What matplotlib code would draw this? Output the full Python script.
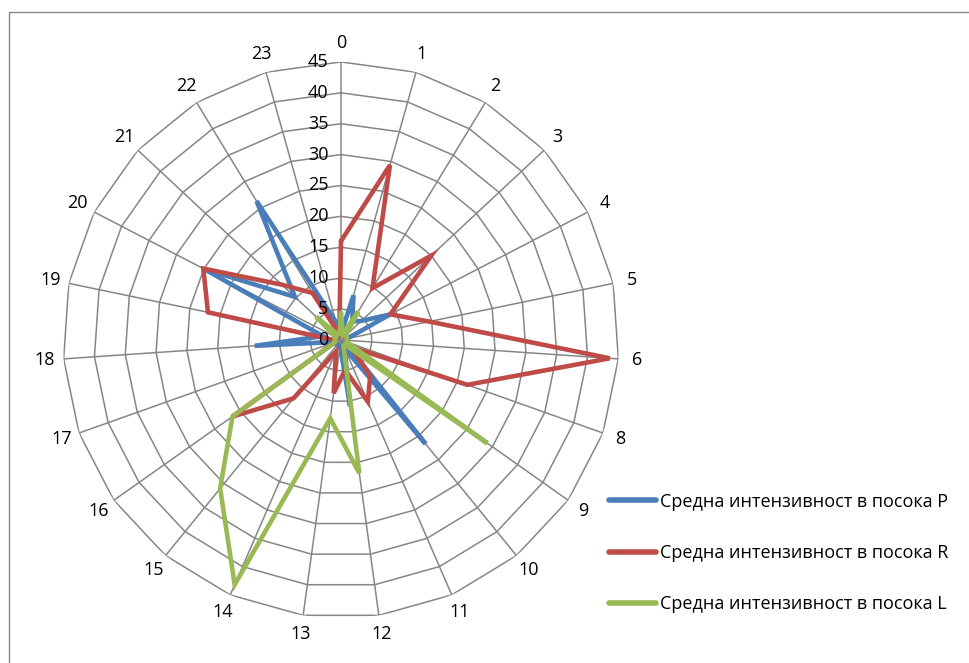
import numpy as np
import matplotlib
matplotlib.use('Agg')
from matplotlib import pyplot as plt
from matplotlib.patches import Rectangle

plt.rcParams['font.family'] = ['Open Sans', 'DejaVu Sans']

# categories (hours, 7 is missing in the source table)
hours = ['0', '1', '2', '3', '4', '5', '6', '8', '9', '10', '11', '12',
         '13', '14', '15', '16', '17', '18', '19', '20', '21', '22', '23']

# average intensity per direction
direction_p = [1, 7.5, 3.5, 4.5, 9, 1, 1, 1, 1, 21.7, 1.5, 10.8,
               1, 1, 1, 1, 1, 14, 3, 25, 10.2, 26.3, 3]
direction_r = [16, 29.4, 9.8, 20, 9, 14.6, 43.6, 21.7, 2, 7.5, 10.9, 4.9,
               8.7, 2, 12.2, 21.5, 1, 1, 22, 25.1, 13.1, 8.9, 1]
direction_l = [4.4, 1, 5.4, 1, 1, 1, 1, 1, 29, 1, 1, 21.8,
               12.8, 43.2, 31, 21.5, 1, 1, 1, 1, 5.5, 1, 1]

series_names = ['Средна интензивност в посока P',
                'Средна интензивност в посока R',
                'Средна интензивност в посока L']
rings = [0, 5, 10, 15, 20, 25, 30, 35, 40, 45]

colors = ['#4A7EBB', '#BE4B48', '#98B954']
grid_color = '#868686'

fig = plt.figure(figsize=(9.69, 6.63), dpi=100)
ax = fig.add_axes([0.065, 0.068, 0.5738, 0.8386], projection='polar')
ax.set_theta_zero_location('N')
ax.set_theta_direction(-1)

theta = np.linspace(0, 2 * np.pi, len(hours), endpoint=False)
theta_closed = np.append(theta, theta[0])

# polygon grid (Excel radar style)
for r in rings[1:]:
    ax.plot(theta_closed, [r] * len(theta_closed), color=grid_color, lw=1.1, zorder=1)
for t in theta:
    ax.plot([t, t], [0, rings[-1]], color=grid_color, lw=1.1, zorder=1)

for vals, col, name in zip([direction_p, direction_r, direction_l], colors, series_names):
    v = np.append(vals, vals[0])
    ax.plot(theta_closed, v, color=col, lw=3.3, label=name, zorder=3,
            solid_joinstyle='miter', solid_capstyle='round')

ax.set_ylim(0, rings[-1])
ax.grid(False)
ax.spines['polar'].set_visible(False)
ax.set_yticks([])
ax.set_xticks(theta)
ax.set_xticklabels(hours, fontsize=13)
ax.tick_params(axis='x', pad=3)

for r in rings:
    ax.annotate(str(r), xy=(0, r), xytext=(-9, 0), textcoords='offset points',
                ha='right', va='center', fontsize=13, zorder=4)

leg = fig.legend(loc='center left', bbox_to_anchor=(0.612, 0.166), frameon=False,
                 handlelength=2.6, labelspacing=1.85, handletextpad=0.2, fontsize=13)
for line in leg.get_lines():
    line.set_linewidth(4)

# outer chart border
fig.patches.append(Rectangle((9 / 969, -0.05), 1.2, 1.05 - 12 / 663,
                             transform=fig.transFigure, fill=False,
                             edgecolor=grid_color, lw=1.0))

fig.savefig('out.png', dpi=100)
